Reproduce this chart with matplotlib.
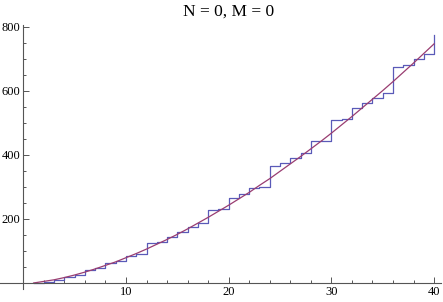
import numpy as np
import matplotlib.pyplot as plt
from matplotlib.ticker import FixedLocator

# step function levels (value from x = n up to n + 1)
step_x = list(range(1, 41))
step_y = [0, 3, 8, 19, 26, 40, 46, 61, 69, 84,
          89, 126, 129, 145, 160, 176, 188, 227, 230, 265,
          278, 296, 299, 364, 376, 390, 405, 442, 445, 509,
          512, 548, 563, 579, 593, 676, 681, 699, 715, 775]

# smooth approximation, sampled at integers
curve_x = list(range(1, 41))
curve_y = [0, 5, 10, 17, 25, 34, 44, 55, 66, 79,
           92, 106, 121, 136, 152, 169, 187, 205, 224, 243,
           263, 283, 305, 326, 349, 372, 395, 419, 443, 468,
           494, 520, 547, 574, 601, 629, 658, 687, 717, 747]

title = "N = 0, M = 0"
xticks = [10, 20, 30, 40]
yticks = [200, 400, 600, 800]
xminor = [t for t in range(2, 41, 2) if t % 10]
yminor = [t for t in range(50, 801, 50) if t % 200]

plt.rcParams['font.family'] = ['Liberation Serif', 'DejaVu Serif']

fig = plt.figure(figsize=(4.43, 3.02), dpi=100)
ax = fig.add_axes([0, 0, 1, 1])
ax.patch.set_alpha(0)

ax.step(step_x, step_y, where='post', color='#5a5ab8', lw=0.9)
ax.plot(curve_x, curve_y, color='#993d71', lw=0.9)

ax.set_xlim(-2.27, 40.87)
ax.set_ylim(-59.4, 884)

for s in ['top', 'right']:
    ax.spines[s].set_visible(False)
ax.spines['left'].set_position(('data', 0))
ax.spines['bottom'].set_position(('data', 0))
ax.spines['left'].set_bounds(-20, 806)
ax.spines['bottom'].set_bounds(-2.27, 40.7)
for s in ['left', 'bottom']:
    ax.spines[s].set_color('#555555')
    ax.spines[s].set_linewidth(0.8)

ax.xaxis.set_major_locator(FixedLocator(xticks))
ax.yaxis.set_major_locator(FixedLocator(yticks))
ax.xaxis.set_minor_locator(FixedLocator(xminor))
ax.yaxis.set_minor_locator(FixedLocator(yminor))
ax.tick_params(which='both', direction='in', color='#555555', width=0.7,
               labelsize=9, pad=2)
ax.tick_params(which='major', length=4)
ax.tick_params(which='minor', length=2.2)

ax.text(0.517, 0.963, title, transform=fig.transFigure, ha='center', va='center',
        fontsize=12.5)

fig.savefig("out.png", dpi=100)
